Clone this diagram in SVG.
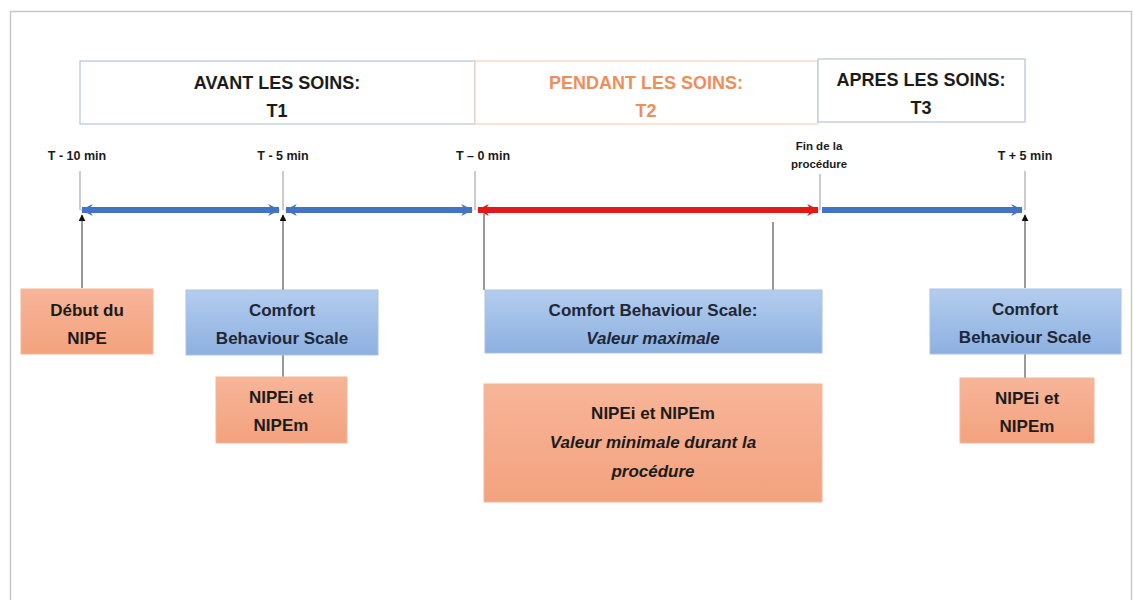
<svg xmlns="http://www.w3.org/2000/svg" width="1134" height="600" viewBox="0 0 1134 600">
<defs>
  <linearGradient id="gBlue" x1="0" y1="0" x2="0" y2="1">
    <stop offset="0" stop-color="#B3CDEE"/>
    <stop offset="1" stop-color="#8DB0E0"/>
  </linearGradient>
  <linearGradient id="gSalmon" x1="0" y1="0" x2="0" y2="1">
    <stop offset="0" stop-color="#F7B598"/>
    <stop offset="1" stop-color="#F3A27E"/>
  </linearGradient>
  <marker id="aBlue" viewBox="0 0 10 10" refX="9" refY="5" markerWidth="2" markerHeight="2" orient="auto-start-reverse" markerUnits="strokeWidth">
    <path d="M0,0 L10,5 L0,10 L3,5 Z" fill="#4472C4"/>
  </marker>
  <marker id="aRed" viewBox="0 0 10 10" refX="9" refY="5" markerWidth="2" markerHeight="2" orient="auto-start-reverse" markerUnits="strokeWidth">
    <path d="M0,0 L10,5 L0,10 L3,5 Z" fill="#E01A1A"/>
  </marker>
  <marker id="aBlack" viewBox="0 0 10 10" refX="9" refY="5" markerWidth="7" markerHeight="7" orient="auto" markerUnits="userSpaceOnUse">
    <path d="M0,0 L10,5 L0,10 Z" fill="#111"/>
  </marker>
</defs>
<style>
  text { font-family: "Liberation Sans", Arial, sans-serif; font-weight: bold; text-anchor: middle; fill: #1b1b1b; }
  .hdr { font-size: 18px; }
  .tick { font-size: 12.5px; }
  .small { font-size: 11.5px; }
  .box { font-size: 17px; }
  .it { font-style: italic; }
  .tickline { stroke: #a9a9a9; stroke-width: 1.2; fill: none; }
  .lead { stroke: #555; stroke-width: 1.2; fill: none; }
  .salmon { fill: url(#gSalmon); stroke: #EDB89E; stroke-width: 1; }
  .blue { fill: url(#gBlue); stroke: #A9C2E4; stroke-width: 1; }
  .blueline { stroke: #4472C4; stroke-width: 6; fill: none; }
  .redline { stroke: #E01A1A; stroke-width: 6; fill: none; }
</style>
<rect x="0" y="0" width="1134" height="600" fill="#ffffff"/>
<rect x="10.5" y="11.5" width="1121" height="600" fill="none" stroke="#c8c8c8" stroke-width="1.5"/>

<g id="header-avant">
  <rect x="80" y="61" width="395" height="63" fill="#fff" stroke="#B6C3D6" stroke-width="1.2"/>
  <text class="hdr" x="277" y="89">AVANT LES SOINS:</text>
  <text class="hdr" x="277" y="117">T1</text>
</g>
<g id="header-pendant">
  <rect x="475" y="61" width="343" height="63" fill="#fff" stroke="#F5D2BC" stroke-width="1.2"/>
  <text class="hdr" x="646" y="89" style="fill:#EE8E5C">PENDANT LES SOINS:</text>
  <text class="hdr" x="646" y="117" style="fill:#EE8E5C">T2</text>
</g>
<g id="header-apres">
  <rect x="818" y="59" width="207" height="63" fill="#fff" stroke="#B6C3D6" stroke-width="1.2"/>
  <text class="hdr" x="921" y="86">APRES LES SOINS:</text>
  <text class="hdr" x="921" y="114">T3</text>
</g>

<g id="tick-labels">
  <text class="tick" x="77" y="160">T - 10 min</text>
  <text class="tick" x="283" y="160">T - 5 min</text>
  <text class="tick" x="483" y="160">T – 0 min</text>
  <text class="small" x="819" y="150">Fin de la</text>
  <text class="small" x="819" y="168">procédure</text>
  <text class="tick" x="1025" y="160">T + 5 min</text>
</g>

<g id="connectors">
  <line class="tickline" x1="80" y1="171" x2="80" y2="210"/>
  <line class="tickline" x1="283" y1="171" x2="283" y2="210"/>
  <line class="tickline" x1="475" y1="171" x2="475" y2="210"/>
  <line class="tickline" x1="820" y1="174" x2="820" y2="210"/>
  <line class="tickline" x1="1025" y1="171" x2="1025" y2="210"/>

  <line class="blueline" x1="82" y1="210" x2="279" y2="210" marker-start="url(#aBlue)" marker-end="url(#aBlue)"/>
  <line class="blueline" x1="286" y1="210" x2="472" y2="210" marker-start="url(#aBlue)" marker-end="url(#aBlue)"/>
  <line class="redline" x1="478" y1="210" x2="818" y2="210" marker-start="url(#aRed)" marker-end="url(#aRed)"/>
  <line class="blueline" x1="822" y1="210" x2="1022" y2="210" marker-end="url(#aBlue)"/>

  <line class="lead" x1="82" y1="288" x2="82" y2="215" marker-end="url(#aBlack)"/>
  <line class="lead" x1="283" y1="290" x2="283" y2="215" marker-end="url(#aBlack)"/>
  <line class="lead" x1="1025" y1="288" x2="1025" y2="215" marker-end="url(#aBlack)"/>
  <line class="lead" x1="484" y1="214" x2="484" y2="290"/>
  <line class="lead" x1="773" y1="222" x2="773" y2="290"/>
  <line class="lead" x1="283" y1="355" x2="283" y2="377"/>
  <line class="lead" x1="1025" y1="354" x2="1025" y2="378"/>
</g>

<g id="debut-nipe">
  <rect class="salmon" x="21" y="289" width="132" height="65"/>
  <text class="box" x="87" y="316">Début du</text>
  <text class="box" x="87" y="344">NIPE</text>
</g>
<g id="cbs-t1">
  <rect class="blue" x="186" y="290" width="192" height="65"/>
  <text class="box" x="282" y="316" style="fill:#1E2838">Comfort</text>
  <text class="box" x="282" y="344" style="fill:#1E2838">Behaviour Scale</text>
</g>
<g id="nipe-t1">
  <rect class="salmon" x="216" y="377" width="131" height="66"/>
  <text class="box" x="281" y="403">NIPEi et</text>
  <text class="box" x="281" y="431">NIPEm</text>
</g>
<g id="cbs-t2">
  <rect class="blue" x="485" y="290" width="337" height="63"/>
  <text class="box" x="653" y="316" style="fill:#1E2838">Comfort Behaviour Scale:</text>
  <text class="box it" x="653" y="344" style="fill:#1E2838">Valeur maximale</text>
</g>
<g id="nipe-t2">
  <rect class="salmon" x="484" y="384" width="338" height="118"/>
  <text class="box" x="653" y="419">NIPEi et NIPEm</text>
  <text class="box it" x="653" y="448">Valeur minimale durant la</text>
  <text class="box it" x="653" y="477">procédure</text>
</g>
<g id="cbs-t3">
  <rect class="blue" x="930" y="289" width="191" height="65"/>
  <text class="box" x="1025" y="315" style="fill:#1E2838">Comfort</text>
  <text class="box" x="1025" y="343" style="fill:#1E2838">Behaviour Scale</text>
</g>
<g id="nipe-t3">
  <rect class="salmon" x="960" y="378" width="134" height="65"/>
  <text class="box" x="1027" y="404">NIPEi et</text>
  <text class="box" x="1027" y="432">NIPEm</text>
</g>
</svg>
